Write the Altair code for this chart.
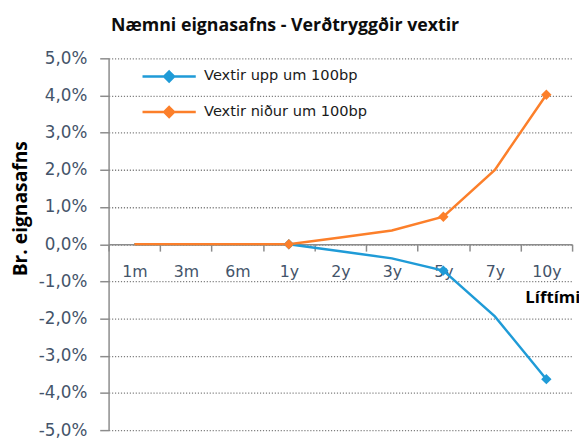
import altair as alt
import pandas as pd

categories = ["1m", "3m", "6m", "1y", "2y", "3y", "5y", "7y", "10y"]
series_names = ["Vextir upp um 100bp", "Vextir niður um 100bp"]
vextir_upp = [0.0, 0.0, 0.0, 0.0, -0.19, -0.38, -0.71, -1.94, -3.63]
vextir_nidur = [0.0, 0.0, 0.0, 0.0, 0.18, 0.37, 0.74, 2.00, 4.02]
has_marker = [False, False, False, True, False, False, True, False, True]
y_ticks = [-5, -4, -3, -2, -1, 0, 1, 2, 3, 4, 5]
colors = ["#1F9BD7", "#FC7F2A"]

rows = []
for name, vals in zip(series_names, [vextir_upp, vextir_nidur]):
    for c, v, m in zip(categories, vals, has_marker):
        rows.append({"series": name, "cat": c, "value": v, "marker": m})
df = pd.DataFrame(rows)

W, H = 470, 377
label_color = "#44546A"
axis_gray = "#8C8C8C"

x_enc = alt.X(
    "cat:N",
    sort=categories,
    scale=alt.Scale(domain=categories, paddingInner=0, paddingOuter=0),
    axis=alt.Axis(
        title="Líftími",
        titleX=450, titleY=54, titleAlign="center", titleBaseline="middle",
        titleFont="Open Sans", titleFontSize=17, titleFontWeight="bold", titleColor="#000000",
        offset=-H / 2,
        tickBand="extent",
        tickSize=7, tickColor=axis_gray, tickWidth=1.5,
        domainColor=axis_gray, domainWidth=1.5,
        labelAngle=0, labelPadding=13,
        labelFont="DejaVu Sans", labelFontSize=16, labelColor=label_color,
        grid=False,
    ),
)
y_enc = alt.Y(
    "value:Q",
    scale=alt.Scale(domain=[-5, 5], nice=False, zero=False),
    axis=alt.Axis(
        title="Br. eignasafns",
        titleX=-89, titleY=152, titleAngle=-90, titleAlign="center", titleBaseline="middle",
        titleFont="Open Sans", titleFontSize=19.5, titleFontWeight="bold", titleColor="#000000",
        values=y_ticks,
        labelExpr="replace(replace(format(datum.value, '.1f'), '.', ','), '\u2212', '-') + '%'",
        tickSize=9, tickColor=axis_gray, tickWidth=1.5,
        domainColor=axis_gray, domainWidth=1.5,
        labelPadding=13,
        labelFont="DejaVu Sans", labelFontSize=17, labelColor=label_color,
        grid=True, gridColor="#7F7F7F", gridDash=[1.2, 1.8], gridWidth=1.3,
    ),
)

SYMBOL = "M-5.4,0H5.4M0,-1L1,0L0,1L-1,0Z"

def make_legend():
    return alt.Legend(
        title=None,
        orient="none",
        legendX=54, legendY=11,
        symbolType=SYMBOL,
        symbolSize=100,
        symbolStrokeWidth=2.5,
        symbolOpacity=1,
        labelFont="DejaVu Sans", labelFontSize=14.8, labelColor="#1A1A1A",
        labelOffset=28, labelLimit=400,
        rowPadding=15,
        padding=0,
    )

base = alt.Chart(df)

line_upp = base.transform_filter(alt.datum.series == series_names[0]).mark_line(strokeWidth=2.5).encode(
    x=x_enc, y=y_enc,
    color=alt.Color("series:N", scale=alt.Scale(domain=series_names, range=colors), legend=make_legend()),
)
line_nidur = base.transform_filter(alt.datum.series == series_names[1]).mark_line(strokeWidth=2.5).encode(
    x=x_enc, y=y_enc,
    color=alt.Color("series:N", scale=alt.Scale(domain=series_names, range=colors), legend=make_legend()),
)
points = base.transform_filter(alt.datum.marker == True).mark_point(
    shape="diamond", filled=True, size=110, opacity=1, strokeWidth=0
).encode(
    x=x_enc, y=y_enc,
    fill=alt.Fill("series:N", scale=alt.Scale(domain=series_names, range=colors), legend=make_legend()),
)

chart = alt.layer(line_upp, line_nidur, points).properties(
    width=W,
    height=H,
    autosize=alt.AutoSizeParams(type="none"),
    padding={"left": 102, "top": 48, "right": 7, "bottom": 8},
    title=alt.TitleParams(
        "Næmni eignasafns - Verðtryggðir vextir",
        font="Open Sans", fontSize=18, fontWeight="bold", color="#0D0D0D",
        anchor="middle", frame="group", dx=-56, dy=25, offset=22, baseline="bottom",
    ),
).configure_view(stroke=None)

chart.save("out.html", embed_options={"renderer": "svg", "actions": False})
